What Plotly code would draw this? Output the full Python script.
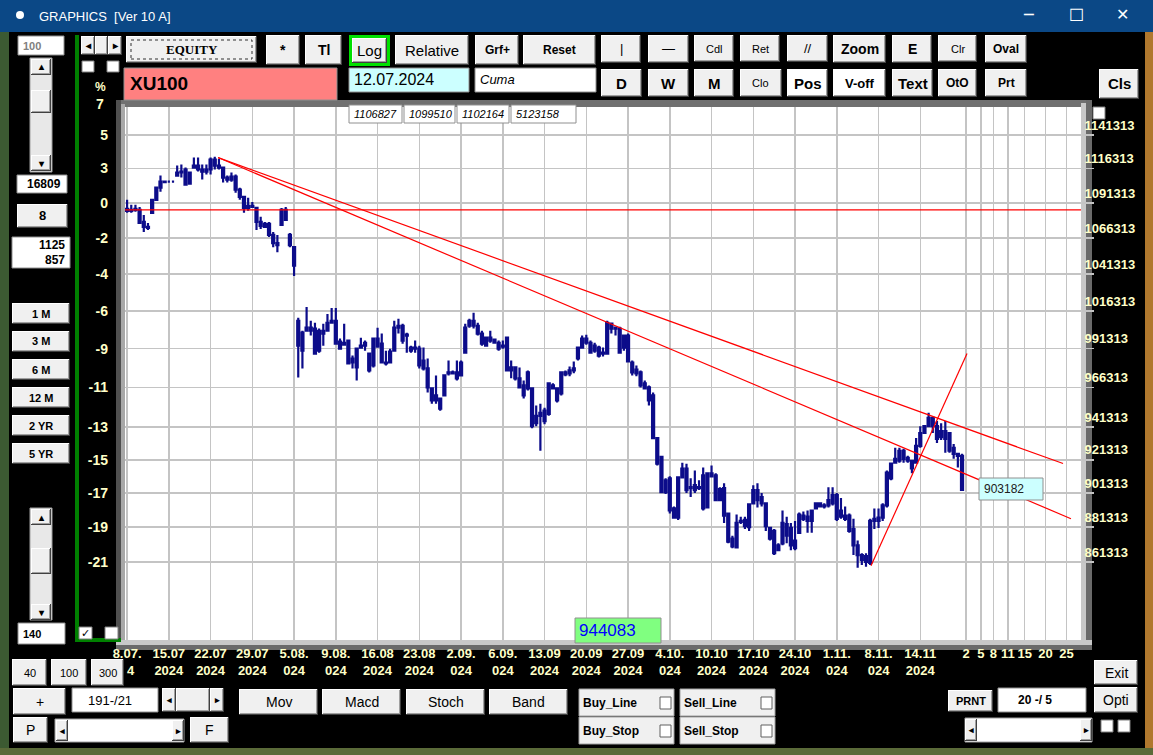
import plotly.graph_objects as go

W, H = 1153, 755

# ---- data (index level, thousands) ----
bar_open = [1087.0, 1086.3, 1086.3, 1086.3, 1077.7, 1074.2, 1084.2, 1093.5, 1102.3, 1106.7,
            1106.7, 1106.7, 1111.1, 1113.4, 1115.6, 1105.3, 1117.0, 1118.5, 1115.6, 1114.1,
            1115.6, 1122.9, 1118.5, 1117.0, 1109.7, 1108.2, 1110.4, 1100.9, 1095.7, 1087.7,
            1089.2, 1087.7, 1077.7, 1074.2, 1076.3, 1068.5, 1061.3, 1075.6, 1086.3, 1068.5,
            1059.9, 1009.7, 1001.8, 1003.1, 1005.1, 1004.5, 990.0, 1003.1, 1003.1, 1008.4,
            1009.7, 995.9, 993.9, 996.6, 984.9, 979.1, 992.0, 993.3, 988.1, 980.4,
            997.9, 994.6, 982.3, 982.3, 990.0, 1005.1, 1006.4, 999.9, 992.0, 991.3,
            991.3, 983.6, 978.5, 965.7, 958.0, 959.2, 961.2, 975.3, 975.9, 975.9,
            974.0, 988.7, 1006.4, 1009.7, 1006.4, 1001.2, 993.3, 998.5, 997.2, 995.2,
            993.3, 998.5, 977.2, 979.1, 972.1, 967.6, 975.9, 965.7, 943.8, 948.4,
            951.6, 949.6, 967.6, 965.7, 962.5, 975.9, 975.3, 977.2, 984.9, 992.0,
            997.9, 995.2, 990.0, 992.0, 988.7, 988.1, 1007.8, 1005.1, 1004.5, 992.0,
            999.9, 982.3, 975.3, 975.9, 968.9, 966.3, 961.2, 934.6, 923.1, 901.9,
            910.1, 892.2, 886.8, 910.7, 916.0, 904.8, 906.0, 904.8, 911.9, 892.8,
            913.1, 911.9, 897.1, 904.2, 889.2, 874.6, 869.6, 884.9, 885.5, 881.3,
            895.2, 903.1, 898.9, 895.2, 880.8, 879.1, 868.0, 871.9, 883.1, 880.8,
            873.5, 878.0, 888.0, 887.4, 884.9, 892.2, 895.2, 894.0, 894.0, 895.2,
            900.1, 887.4, 886.1, 888.0, 880.2, 870.8, 865.2, 864.6, 860.7, 886.1,
            884.9, 886.8, 894.0, 910.1, 919.5, 920.7, 926.8, 922.5, 920.7, 919.5,
            929.8, 937.7, 941.9, 947.1, 941.9, 938.9, 934.0, 937.7, 928.6, 924.9,
            923.7]
bar_high = [1093.5, 1089.9, 1089.9, 1088.4, 1082.7, 1077.0, 1094.2, 1103.1, 1111.1, 1107.5,
            1107.5, 1107.5, 1118.5, 1119.2, 1117.0, 1114.1, 1124.4, 1124.4, 1119.2, 1119.2,
            1124.4, 1125.1, 1123.6, 1117.8, 1111.1, 1113.4, 1111.9, 1102.3, 1096.4, 1095.0,
            1092.0, 1088.4, 1081.3, 1077.7, 1077.7, 1070.6, 1068.5, 1087.7, 1088.4, 1069.9,
            1060.6, 1011.7, 1003.1, 1019.0, 1009.7, 1008.4, 1004.5, 1007.8, 1014.3, 1018.3,
            1018.3, 997.9, 1007.8, 997.2, 986.8, 992.0, 998.5, 996.6, 988.7, 998.5,
            1005.1, 1001.2, 990.0, 991.3, 1009.7, 1011.0, 1007.8, 1001.8, 993.3, 996.6,
            993.3, 992.0, 984.9, 966.3, 974.0, 959.9, 974.6, 983.6, 977.2, 983.6,
            983.6, 1007.8, 1011.0, 1015.0, 1008.4, 1003.1, 999.2, 1003.1, 997.9, 996.6,
            996.6, 999.2, 983.6, 979.8, 979.1, 970.8, 977.2, 966.3, 954.8, 956.0,
            953.5, 969.5, 968.9, 966.3, 976.6, 977.2, 979.8, 983.0, 992.6, 999.9,
            1000.5, 996.6, 995.2, 993.3, 992.0, 1009.7, 1008.4, 1005.8, 1005.8, 1000.5,
            1001.2, 983.6, 980.4, 977.2, 970.8, 967.6, 963.1, 935.2, 923.7, 910.1,
            911.3, 893.4, 911.3, 919.5, 918.9, 910.1, 914.8, 908.9, 916.6, 913.6,
            917.8, 913.1, 904.8, 907.2, 889.8, 876.3, 888.6, 887.4, 887.4, 895.2,
            906.0, 907.2, 901.3, 895.8, 881.3, 880.2, 871.9, 891.0, 887.4, 883.7,
            884.9, 889.8, 890.4, 891.0, 891.6, 895.8, 895.8, 895.2, 904.8, 904.8,
            901.3, 898.3, 893.4, 889.2, 886.1, 873.5, 866.3, 866.3, 886.1, 892.2,
            892.2, 895.2, 914.8, 919.5, 928.6, 928.6, 928.0, 923.7, 921.3, 934.6,
            941.9, 942.5, 950.3, 947.7, 945.1, 943.8, 945.1, 938.3, 931.0, 925.5,
            924.9]
bar_low = [1084.2, 1084.2, 1084.9, 1076.3, 1070.6, 1072.0, 1083.4, 1092.8, 1099.4, 1106.0,
           1106.0, 1106.0, 1110.4, 1109.7, 1103.8, 1104.5, 1116.3, 1114.1, 1108.2, 1111.9,
           1111.9, 1115.6, 1115.6, 1106.0, 1106.0, 1106.7, 1098.7, 1093.5, 1084.2, 1085.6,
           1087.7, 1072.0, 1072.7, 1073.4, 1067.0, 1059.9, 1056.3, 1075.6, 1078.4, 1059.9,
           1040.0, 972.7, 978.5, 1002.5, 999.9, 987.5, 988.7, 993.3, 1002.5, 1007.8,
           993.9, 990.7, 993.3, 981.0, 978.5, 970.8, 991.3, 990.0, 975.9, 979.1,
           992.0, 981.7, 980.4, 981.7, 989.4, 1001.2, 994.6, 988.7, 988.7, 988.7,
           978.5, 977.2, 963.1, 956.0, 956.0, 951.6, 960.5, 974.0, 974.6, 970.8,
           973.4, 988.1, 1005.1, 1004.5, 999.9, 993.3, 992.6, 995.2, 994.6, 990.0,
           991.3, 976.6, 972.1, 970.8, 965.7, 959.2, 964.4, 940.7, 941.9, 926.8,
           943.2, 948.4, 965.0, 956.7, 961.2, 973.4, 973.4, 975.3, 983.6, 991.3,
           993.9, 988.1, 988.7, 985.5, 986.2, 987.5, 1001.2, 999.9, 988.1, 990.0,
           982.3, 974.0, 973.4, 966.3, 965.0, 954.8, 934.0, 917.8, 901.3, 900.7,
           889.2, 886.1, 885.5, 910.1, 901.3, 898.9, 901.3, 903.1, 891.0, 892.2,
           910.7, 896.5, 896.5, 883.7, 871.9, 869.1, 869.1, 883.1, 880.2, 879.1,
           894.6, 892.8, 893.4, 879.1, 873.5, 865.2, 867.4, 870.8, 871.9, 868.0,
           868.0, 877.4, 884.9, 878.0, 878.0, 891.6, 892.8, 892.2, 892.8, 894.0,
           884.9, 886.1, 884.9, 878.0, 865.2, 858.0, 859.6, 858.5, 859.6, 880.2,
           880.8, 884.9, 892.8, 908.9, 918.9, 919.5, 919.5, 919.5, 913.1, 918.9,
           928.6, 937.1, 941.3, 937.7, 931.6, 933.4, 925.5, 925.5, 921.9, 916.6,
           902.5]
bar_close = [1085.6, 1085.6, 1087.0, 1077.0, 1074.2, 1073.4, 1093.5, 1102.3, 1106.7, 1106.4,
             1106.7, 1106.7, 1113.4, 1114.1, 1104.5, 1113.4, 1118.5, 1115.6, 1114.1, 1115.6,
             1122.9, 1118.5, 1117.0, 1109.7, 1108.2, 1110.4, 1100.9, 1095.7, 1087.7, 1089.2,
             1088.4, 1077.7, 1074.9, 1076.3, 1068.5, 1062.7, 1062.7, 1086.3, 1079.2, 1061.3,
             1047.0, 993.3, 990.0, 1005.1, 1003.1, 988.1, 1003.1, 1001.2, 1008.4, 1009.7,
             994.6, 991.3, 995.2, 981.7, 982.3, 991.3, 993.3, 995.2, 977.2, 997.9,
             992.6, 982.3, 981.7, 989.4, 1005.1, 1006.4, 996.6, 1000.5, 990.0, 992.0,
             980.4, 978.5, 966.3, 958.0, 961.2, 952.8, 974.0, 975.9, 975.3, 972.1,
             982.3, 1005.1, 1009.7, 1006.4, 1001.2, 994.6, 998.5, 996.6, 995.2, 991.3,
             992.6, 977.2, 979.1, 972.1, 966.3, 961.2, 965.7, 941.9, 948.4, 950.3,
             945.1, 968.9, 965.7, 958.0, 975.9, 974.6, 977.2, 978.5, 992.0, 997.9,
             995.2, 988.7, 993.3, 986.8, 988.1, 1008.4, 1004.5, 1004.5, 988.7, 999.9,
             983.0, 975.9, 977.8, 967.6, 965.7, 958.0, 934.6, 918.9, 901.9, 908.9,
             891.0, 886.8, 910.7, 916.0, 903.1, 904.2, 903.1, 904.2, 892.2, 913.1,
             911.3, 897.1, 903.7, 888.0, 872.9, 870.2, 883.7, 884.3, 881.9, 894.6,
             903.1, 897.1, 895.2, 881.9, 874.6, 866.3, 870.8, 883.7, 876.3, 870.8,
             869.1, 888.6, 886.1, 884.9, 891.0, 895.2, 893.4, 893.4, 897.1, 900.1,
             886.1, 891.0, 888.0, 879.1, 870.8, 865.2, 862.4, 861.3, 884.9, 884.9,
             886.8, 894.0, 913.6, 918.9, 921.9, 926.8, 921.9, 920.7, 916.0, 929.8,
             937.7, 941.9, 947.1, 941.9, 934.0, 935.2, 938.9, 926.8, 924.9, 923.7,
             903.2]

week_pos = [0, 10, 20, 30, 40, 50, 60, 70, 80, 90, 100, 110, 120, 130, 140, 150, 160, 170, 180, 190]
week_day = ["8.07.", "15.07", "22.07", "29.07", "5.08.", "9.08.", "16.08", "23.08", "2.09.", "6.09.",
            "13.09", "20.09", "27.09", "4.10.", "10.10", "17.10", "24.10", "1.11.", "8.11.", "14.11"]
# first year label is cut by the "300" button in the original, only "4" shows
week_year = ["  4", "2024", "2024", "2024", "024", "024", "2024", "2024", "024", "024",
             "2024", "2024", "2024", "024", "2024", "2024", "2024", "024", "024", "2024"]
future_pos = [201, 204.5, 207.5, 211, 215, 220, 225]
future_day = ["2", "5", "8", "11", "15", "20", "25"]

price_ticks = [1141313, 1116313, 1091313, 1066313, 1041313, 1016313, 991313,
               966313, 941313, 921313, 901313, 881313, 861313]
pct_labels = ["5", "3", "0", "-2", "-4", "-6", "-9", "-11", "-13", "-15", "-17", "-19", "-21"]

base_line = 1086300
trend_upper = ([21.8, 224.2], [1124400, 919000])
trend_lower = ([21.8, 226.1], [1124400, 886200])
trend_steep = ([178.2, 201.2], [859100, 988100])

last_value = "903182"
cursor_value = "944083"
top_values = ["1106827", "1099510", "1102164", "5123158"]

SANS = "Liberation Sans, Arial, sans-serif"
NARROW = "Liberation Sans Narrow, Arial Narrow, Liberation Sans, sans-serif"
SERIF = "Liberation Serif, Times New Roman, serif"
YEL = "#FFFFC8"

shapes = []
annotations = []


def rect(x0, y0, x1, y1, fill, line=None, lw=1, layer="above", dash=None):
    ln = dict(color=line, width=lw) if line else dict(width=0)
    if dash:
        ln["dash"] = dash
    shapes.append(dict(type="rect", xref="paper", yref="paper", x0=x0 / W, x1=x1 / W,
                       y0=1 - y1 / H, y1=1 - y0 / H, fillcolor=fill, line=ln, layer=layer))


def label(x, y, text, size=12, color="black", family=SANS, weight="bold", xanchor="center"):
    annotations.append(dict(xref="paper", yref="paper", x=x / W, y=1 - y / H, text=text,
                            showarrow=False, xanchor=xanchor, yanchor="middle",
                            font=dict(size=size, color=color, family=family, weight=weight)))


def button(x0, y0, x1, y1, text, size=12, fill="#F0F0F0", color="black", family=SANS, weight="bold"):
    rect(x0, y0, x1, y1, "#404040")
    rect(x0, y0, x1 - 1, y1 - 1, "#FFFFFF")
    rect(x0 + 1, y0 + 1, x1 - 1, y1 - 1, "#A0A0A0")
    rect(x0 + 1, y0 + 1, x1 - 2, y1 - 2, fill)
    if text:
        label((x0 + x1) / 2, (y0 + y1) / 2, text, size, color, family, weight)


def box(x0, y0, x1, y1, text, fill="#FFFFFF", size=12, color="black", family=SANS, weight="normal", pad=3):
    rect(x0, y0, x1, y1, fill, line="#909090", lw=1)
    label(x0 + pad, (y0 + y1) / 2, text, size, color, family, weight, xanchor="left")


# window frame / desktop edges
rect(0, 0, W, 32, "#0B4886", layer="below")
rect(0, 32, 9, H, "#3C5A32", layer="below")
rect(1145, 32, W, H, "#B0782E", layer="below")
rect(0, 748, W, H, "#5A6A38", layer="below")
shapes.append(dict(type="circle", xref="paper", yref="paper", x0=16 / W, x1=24 / W,
                   y0=1 - 19 / H, y1=1 - 11 / H, fillcolor="white", line=dict(width=0)))
label(37, 16, "GRAPHICS  [Ver 10 A]", 13, "white", SANS, "normal", "left")
label(1028, 15, "─", 16, "white", "DejaVu Sans", "normal")
label(1076, 15, "☐", 17, "white", "DejaVu Sans", "normal")
label(1122, 15, "✕", 16, "white", "DejaVu Sans", "normal")

# plot bevel
rect(116, 100, 1092, 107, "#707070", layer="below")
rect(116, 100, 121, 650, "#505050", layer="below")
rect(121, 104, 125, 646, "#A8A8A8", layer="below")
rect(1081, 103, 1086, 648, "#C8C8C8", layer="below")
rect(1086, 100, 1092, 650, "#6A6A6A", layer="below")
rect(116, 640, 1092, 645, "#C8C8C8", layer="below")
rect(116, 645, 1092, 650, "#6A6A6A", layer="below")

# green divider
rect(75, 35, 79, 642, "#008000", layer="below")
rect(75, 638, 121, 642, "#008000", layer="below")

# top toolbar
box(18, 36, 64, 55, "100", size=11, color="#808080", weight="bold")
button(81, 36, 95, 55, "◂", 10)
button(95, 36, 108, 55, "")
button(108, 36, 122, 55, "▸", 10)
rect(82, 61, 94, 72, "white", line="#808080")
rect(107, 61, 119, 72, "white", line="#808080")
button(126, 36, 257, 63, "EQUITY", 13, family=SERIF)
rect(131, 40, 252, 59, "rgba(0,0,0,0)", line="#303030", lw=1, dash="dot")
button(266, 35, 300, 65, "*", 14)
button(305, 35, 342, 65, "Tl", 14)
rect(349, 35, 390, 66, "#00E000")
button(352, 38, 387, 63, "Log", 15, weight="normal")
button(395, 35, 469, 65, "Relative", 15, weight="normal")
button(475, 35, 519, 65, "Grf+", 12)
button(523, 35, 596, 65, "Reset", 12)
button(601, 35, 641, 63, "|", 13, weight="normal")
button(648, 35, 689, 63, "—", 13, weight="normal")
button(694, 35, 734, 62, "Cdl", 11, weight="normal")
button(740, 35, 780, 62, "Ret", 11, weight="normal")
button(787, 35, 828, 62, "//", 13, weight="normal")
button(833, 35, 886, 63, "Zoom", 14)
button(892, 35, 932, 63, "E", 14)
button(938, 35, 977, 62, "Clr", 11, weight="normal")
button(985, 35, 1027, 63, "Oval", 12)

box(124, 68, 337, 100, "XU100", fill="#FF8080", size=19, weight="bold", pad=4)
box(349, 68, 469, 92, "12.07.2024", fill="#CCFFFF", size=16)
box(475, 68, 596, 92, "<i>Cuma</i>", size=13)
button(601, 69, 642, 97, "D", 15)
button(648, 69, 689, 97, "W", 15)
button(694, 69, 734, 97, "M", 15)
button(740, 69, 782, 97, "Clo", 11, weight="normal")
button(787, 69, 828, 97, "Pos", 15, fill="#FFFFFF")
button(833, 69, 886, 97, "V-off", 13, fill="#FFFFFF")
button(892, 69, 933, 97, "Text", 15)
button(938, 69, 977, 97, "OtO", 12)
button(985, 69, 1027, 97, "Prt", 12)
button(1099, 69, 1139, 99, "Cls", 15)

# left column
rect(30, 58, 52, 172, "#E8E8E8", line="#A0A0A0")
button(31, 59, 51, 75, "▴", 10)
button(31, 90, 51, 113, "")
button(31, 155, 51, 171, "▾", 10)
box(17, 175, 67, 193, "16809", size=12, weight="bold", pad=8)
button(17, 204, 68, 228, "8", 13)
rect(12, 237, 70, 268, "white", line="#909090")
label(67, 245, "1125", 12, "black", SANS, "bold", "right")
label(67, 260, "857", 12, "black", SANS, "bold", "right")
for k, txt in enumerate(["1 M", "3 M", "6 M", "12 M", "2 YR", "5 YR"]):
    button(12, 303 + 28 * k, 70, 324 + 28 * k, txt, 11)
rect(30, 508, 52, 620, "#E8E8E8", line="#A0A0A0")
button(31, 509, 51, 525, "▴", 10)
button(31, 548, 51, 574, "")
button(31, 604, 51, 620, "▾", 10)
box(18, 623, 65, 644, "140", size=11, weight="bold")
rect(79, 627, 92, 639, "white", line="#808080")
label(85.5, 633, "✓", 11, "black", "DejaVu Sans", "bold")
rect(105, 627, 118, 639, "white", line="#808080")
rect(1093, 107, 1105, 119, "white", line="#808080")

# left percent header
label(100, 87, "%", 12, YEL, NARROW, "bold")
label(100, 104, "7", 14, YEL, NARROW, "bold")

# value boxes on the chart
xs = [349, 404, 457, 511, 578]
for k, v in enumerate(top_values):
    box(xs[k], 105, xs[k + 1] - 2, 123, "<i>" + v + "</i>", size=11, pad=3)
box(979, 478, 1043, 500, last_value, fill="#CCFFFF", size=12, color="#202020")
box(575, 618, 661, 643, cursor_value, fill="#80FF80", size=17, color="#0000FF", pad=2)

# bottom controls
button(12, 659, 47, 686, "40", 11, weight="normal")
button(51, 659, 87, 686, "100", 11, weight="normal")
button(91, 659, 124, 686, "300", 11, weight="normal")
button(13, 688, 66, 715, "+", 14, weight="normal")
box(72, 688, 158, 712, "191-/21", size=13, pad=14)
button(162, 688, 176, 712, "◂", 9)
button(176, 688, 210, 712, "")
button(210, 688, 224, 712, "▸", 9)
button(239, 689, 318, 715, "Mov", 14, weight="normal")
button(322, 689, 401, 715, "Macd", 14, weight="normal")
button(406, 689, 485, 715, "Stoch", 14, weight="normal")
button(489, 689, 568, 715, "Band", 14, weight="normal")
for (x0, y0, txt) in [(579, 689, "Buy_Line"), (680, 689, "Sell_Line"),
                      (579, 717, "Buy_Stop"), (680, 717, "Sell_Stop")]:
    rect(x0, y0, x0 + 95, y0 + 27, "#F0F0F0", line="#A0A0A0")
    label(x0 + 2, y0 + 13.5, txt, 12, "black", NARROW, "bold", "left")
    rect(x0 + 81, y0 + 8, x0 + 92, y0 + 20, "white", line="#606060")
button(13, 717, 48, 743, "P", 14, weight="normal")
rect(55, 719, 184, 742, "white", line="#A0A0A0")
button(56, 720, 68, 741, "◂", 9)
button(172, 720, 184, 741, "▸", 9)
button(190, 717, 229, 743, "F", 14, weight="normal")
button(948, 690, 993, 712, "PRNT", 11, family=NARROW)
box(998, 688, 1086, 712, "20 -/ 5", size=12, weight="bold", pad=18)
button(1094, 660, 1138, 685, "Exit", 14, weight="normal")
button(1094, 687, 1138, 713, "Opti", 14, weight="normal")
rect(965, 718, 1092, 742, "white", line="#A0A0A0")
button(965, 719, 977, 741, "◂", 9)
button(1080, 719, 1092, 741, "▸", 9)
rect(1101, 720, 1113, 732, "white", line="#808080")
rect(1118, 720, 1130, 732, "white", line="#808080")

# ---- traces ----
x_idx = list(range(len(bar_close)))
k = 1000
fig = go.Figure()
fig.add_trace(go.Candlestick(
    x=x_idx,
    open=[v * k for v in bar_open], high=[v * k for v in bar_high],
    low=[v * k for v in bar_low], close=[v * k for v in bar_close],
    increasing=dict(line=dict(color="#0C0C8A", width=2.2), fillcolor="#22E822"),
    decreasing=dict(line=dict(color="#0C0C8A", width=2.2), fillcolor="#0C0C8A"),
    whiskerwidth=0, hoverinfo="skip", showlegend=False))

red = dict(color="#FF0000", width=1.2)
fig.add_trace(go.Scatter(x=[-0.5, 228.5], y=[base_line, base_line], mode="lines",
                         line=red, yaxis="y2", showlegend=False, hoverinfo="skip"))
for tx, ty in [trend_upper, trend_lower, trend_steep]:
    fig.add_trace(go.Scatter(x=tx, y=ty, mode="lines", line=red, yaxis="y2",
                             showlegend=False, hoverinfo="skip"))

tick_vals = week_pos + future_pos
tick_text = [d + "<br>" + y for d, y in zip(week_day, week_year)] + future_day
yrange = [5.9128, 6.0654]
grid = "#C4C4C4"

fig.update_layout(
    width=W, height=H,
    margin=dict(l=0, r=0, t=0, b=0, autoexpand=False),
    paper_bgcolor="black", plot_bgcolor="white",
    hovermode=False,
    xaxis=dict(domain=[125 / W, 1081 / W], range=[-0.5, 228.5],
               tickvals=tick_vals, ticktext=tick_text, tickangle=0,
               showgrid=True, gridcolor=grid, gridwidth=1.5, zeroline=False,
               ticks="", ticklabelstandoff=4,
               tickfont=dict(color=YEL, size=13, family=NARROW, weight="bold"),
               rangeslider=dict(visible=False), fixedrange=True),
    yaxis=dict(domain=[1 - 640 / H, 1 - 107 / H], type="log", range=yrange,
               tickvals=price_ticks, ticktext=pct_labels, side="left",
               showgrid=True, gridcolor=grid, gridwidth=1.5, zeroline=False,
               ticks="", ticklabelstandoff=16,
               tickfont=dict(color=YEL, size=14, family=NARROW, weight="bold")),
    yaxis2=dict(overlaying="y", side="right", type="log", range=yrange,
                tickvals=price_ticks, ticktext=[str(v) for v in price_ticks],
                showgrid=False, zeroline=False, ticks="outside", ticklen=12,
                tickcolor=grid, tickwidth=1.5, ticklabelposition="outside top",
                tickfont=dict(color=YEL, size=13, family=SANS, weight="bold")),
    shapes=shapes, annotations=annotations,
)

fig.write_html("out.html", config={"displayModeBar": False, "staticPlot": True},
               post_script="document.body.style.margin='0px';document.body.style.overflow='hidden';")
